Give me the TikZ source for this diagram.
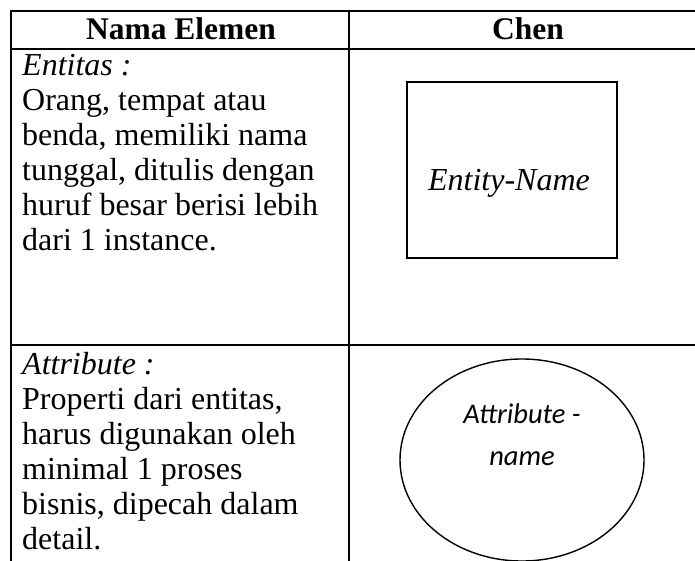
\documentclass[tikz,border=0pt]{standalone}
\usepackage{fontspec}
\setmainfont{Liberation Serif}
\newfontfamily\calib{Carlito}
\usetikzlibrary{shapes.geometric}
\begin{document}
\begin{tikzpicture}[x=1bp,y=-1bp,
  rule/.style={line width=2.1bp,line cap=rect},
  headtxt/.style={anchor=base,inner sep=0pt,font=\fontsize{31.5bp}{35bp}\selectfont\bfseries},
  celltxt/.style={anchor=base west,inner sep=0pt,align=left,font=\fontsize{32bp}{35bp}\selectfont},
  entitybox/.style={draw,line width=1.7bp,minimum width=210bp,minimum height=176bp,inner sep=0pt},
  attrell/.style={draw,ellipse,line width=1.4bp,minimum width=244bp,minimum height=202bp,inner sep=0pt}]
\useasboundingbox[clip] (0,0) rectangle (695,561);
\fill[white] (0,0) rectangle (695,561);

% table rules
\coordinate (tl) at (11,11);
\coordinate (tr) at (700,11);
\coordinate (hl) at (11,49);
\coordinate (hr) at (700,49);
\coordinate (rl) at (11,345);
\coordinate (rr) at (700,345);
\coordinate (lb) at (11,566);
\coordinate (mt) at (349,11);
\coordinate (mb) at (349,566);
\draw[rule] (tl) -- (tr);
\draw[rule] (hl) -- (hr);
\draw[rule] (rl) -- (rr);
\draw[rule] (tl) -- (lb);
\draw[rule] (mt) -- (mb);

% header
\node[headtxt] (h1) at (181,40) {Nama Elemen};
\node[headtxt] (h2) at (528,40) {Chen};

% row 1: entity (anchored on the baseline of the last line)
\node[celltxt] (e1) at (22,251) {\textit{Entitas :}\\Orang, tempat atau\\benda, memiliki nama\\tunggal, ditulis dengan\\huruf besar berisi lebih\\dari 1 instance.};
\node[entitybox] (ent) at (512,170) {};
\node[anchor=base,inner sep=0pt,font=\fontsize{32bp}{35bp}\selectfont\itshape] (entname) at (509,191) {Entity-Name};

% row 2: attribute
\node[celltxt] (a1) at (22,549) {\textit{Attribute :}\\Properti dari entitas,\\harus digunakan oleh\\minimal 1 proses\\bisnis, dipecah dalam\\detail.};
\node[attrell] (att) at (522,460) {};
\node[anchor=base,inner sep=0pt,align=center,font=\calib\itshape\fontsize{28.5bp}{42bp}\selectfont] (attname) at (522,465) {Attribute -\\name};
\end{tikzpicture}
\end{document}
